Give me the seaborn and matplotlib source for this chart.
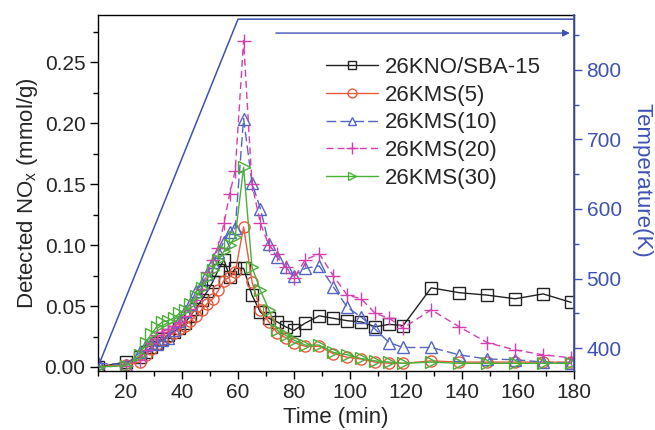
import numpy as np
import pandas as pd
import matplotlib
matplotlib.use("Agg")
import matplotlib.pyplot as plt
from matplotlib.ticker import MultipleLocator, FormatStrFormatter
import seaborn as sns

# ---- data -------------------------------------------------------------
time_min = [10, 20, 25, 27, 29, 31, 33, 35, 37, 39, 41, 43, 45, 47, 49, 51,
            53, 55, 57, 59, 62, 65, 68, 71, 74, 77, 80, 84, 89, 94, 99, 104,
            109, 114, 119, 129, 139, 149, 159, 169, 179]

kno_sba15 = [0.000, 0.004, 0.008, 0.012, 0.016, 0.020, 0.023, 0.026, 0.029,
             0.032, 0.036, 0.042, 0.048, 0.055, 0.062, 0.070, 0.080, 0.088,
             0.074, 0.081, 0.081, 0.059, 0.045, 0.040, 0.037, 0.033, 0.030,
             0.036, 0.042, 0.040, 0.038, 0.037, 0.033, 0.035, 0.034, 0.065,
             0.061, 0.059, 0.056, 0.060, 0.053]

kms5 = [0.000, 0.002, 0.004, 0.010, 0.015, 0.019, 0.022, 0.025, 0.028, 0.031,
        0.034, 0.038, 0.042, 0.047, 0.052, 0.056, 0.063, 0.071, 0.074, 0.078,
        0.115, 0.070, 0.047, 0.037, 0.028, 0.024, 0.020, 0.017, 0.017, 0.011,
        0.008, 0.0065, 0.004, 0.003, 0.003, 0.005, 0.004, 0.004, 0.004, 0.004,
        0.004]

kms10 = [0.003, 0.002, 0.012, 0.018, 0.020, 0.019, 0.022, 0.024, 0.030, 0.038,
         0.046, 0.052, 0.062, 0.068, 0.076, 0.086, 0.094, 0.103, 0.111, 0.114,
         0.204, 0.151, 0.130, 0.101, 0.090, 0.082, 0.075, 0.081, 0.083, 0.066,
         0.049, 0.041, 0.031, 0.020, 0.016, 0.016, 0.010, 0.0065, 0.006, 0.004,
         0.003]

kms20 = [0.000, 0.001, 0.006, 0.014, 0.020, 0.026, 0.029, 0.031, 0.034, 0.037,
         0.042, 0.048, 0.055, 0.064, 0.078, 0.088, 0.098, 0.118, 0.142, 0.161,
         0.268, 0.150, 0.118, 0.100, 0.093, 0.082, 0.073, 0.088, 0.093, 0.075,
         0.059, 0.056, 0.044, 0.040, 0.032, 0.047, 0.033, 0.020, 0.014, 0.010,
         0.0075]

kms30 = [0.000, 0.001, 0.010, 0.020, 0.027, 0.033, 0.037, 0.038, 0.040, 0.044,
         0.047, 0.052, 0.058, 0.065, 0.073, 0.080, 0.088, 0.095, 0.100, 0.107,
         0.164, 0.082, 0.063, 0.047, 0.030, 0.026, 0.022, 0.018, 0.018, 0.012,
         0.010, 0.007, 0.005, 0.004, 0.003, 0.004, 0.003, 0.003, 0.003, 0.003,
         0.003]

series_labels = ["26KNO/SBA-15", "26KMS(5)", "26KMS(10)", "26KMS(20)", "26KMS(30)"]

# temperature programme: 10 K/min ramp then hold
temp_time = [10, 60, 180]
temp_K = [373, 873, 873]

# ---- styling ----------------------------------------------------------
sns.set_style("ticks")
plt.rcParams["font.family"] = ["Liberation Sans", "DejaVu Sans"]
plt.rcParams["mathtext.fontset"] = "custom"
plt.rcParams["mathtext.rm"] = "Liberation Sans"
plt.rcParams["mathtext.default"] = "regular"

TICK_FS = 15
LABEL_FS = 16
TEMP_BLUE = "#3f51b5"
styles = [
    dict(color="#222222", marker="s", linestyle="-"),
    dict(color="#ea5a3c", marker="o", linestyle="-"),
    dict(color="#5565c4", marker="^", linestyle=(0, (7, 3))),
    dict(color="#d43fae", marker="+", linestyle=(0, (5, 3))),
    dict(color="#4caf3a", marker=">", linestyle="-"),
]
values = [kno_sba15, kms5, kms10, kms20, kms30]

fig = plt.figure(figsize=(6.55, 4.30), dpi=100)
ax = fig.add_axes([98 / 655, 59 / 430, 476 / 655, 356 / 430])

for lab, vals, st in zip(series_labels, values, styles):
    df = pd.DataFrame({"t": time_min, "v": vals})
    c = st["color"]
    sns.lineplot(data=df, x="t", y="v", ax=ax, label=lab, color=c,
                 linestyle=st["linestyle"], linewidth=1.0,
                 marker=st["marker"], markersize=8 if st["marker"] != "+" else 10,
                 markerfacecolor="none", markeredgecolor=c, markeredgewidth=1.0,
                 sort=False, errorbar=None)

ax.set_xlim(10, 180)
ax.set_ylim(-0.0033, 0.289)
ax.set_xticks([20, 40, 60, 80, 100, 120, 140, 160, 180])
ax.xaxis.set_minor_locator(MultipleLocator(10))
ax.yaxis.set_major_locator(MultipleLocator(0.05))
ax.yaxis.set_minor_locator(MultipleLocator(0.025))
ax.yaxis.set_major_formatter(FormatStrFormatter("%.2f"))
ax.tick_params(axis="both", which="major", direction="out", length=6,
               width=1, labelsize=TICK_FS, color="black", pad=3)
ax.tick_params(axis="both", which="minor", direction="out", length=3.5,
               width=1, color="black")
for s in ax.spines.values():
    s.set_linewidth(1.0)
    s.set_color("black")

ax.set_xlabel("Time (min)", fontsize=LABEL_FS, labelpad=3)
ax.set_ylabel("Detected NO$_x$ (mmol/g)", fontsize=LABEL_FS, labelpad=3)

leg = ax.legend(loc="upper left", bbox_to_anchor=(0.478, 0.882), frameon=False,
                fontsize=LABEL_FS, handlelength=2.35, handletextpad=0.3,
                labelspacing=0.3, markerscale=0.8, borderaxespad=0,
                borderpad=0)

# temperature on the right axis
ax2 = ax.twinx()
sns.lineplot(x=temp_time, y=temp_K, ax=ax2, color=TEMP_BLUE, linewidth=1.1,
             legend=False, errorbar=None)
ax2.set_ylim(367, 879)
ax2.set_yticks([400, 500, 600, 700, 800])
ax2.yaxis.set_minor_locator(MultipleLocator(50))
ax2.tick_params(axis="y", which="major", direction="out", length=6, width=1,
                labelsize=TICK_FS, color=TEMP_BLUE, labelcolor=TEMP_BLUE, pad=3)
ax2.tick_params(axis="y", which="minor", direction="out", length=3.5, width=1,
                color=TEMP_BLUE)
ax2.spines["right"].set_color(TEMP_BLUE)
ax2.spines["right"].set_linewidth(1.2)
for side in ("left", "top", "bottom"):
    ax2.spines[side].set_visible(False)
ax2.set_ylabel("Temperature(K)", fontsize=LABEL_FS, color=TEMP_BLUE,
               rotation=270, labelpad=18)
ax2.yaxis.set_label_coords(1.165, 0.535)
ax2.set_xlim(10, 180)

# arrow pointing the temperature curve to the right-hand axis
ax2.annotate("", xy=(178.5, 853), xytext=(73.5, 853),
             arrowprops=dict(arrowstyle="-|>", color=TEMP_BLUE, lw=1.0,
                             mutation_scale=10, shrinkA=0, shrinkB=0))

fig.savefig("out.png", dpi=100)
